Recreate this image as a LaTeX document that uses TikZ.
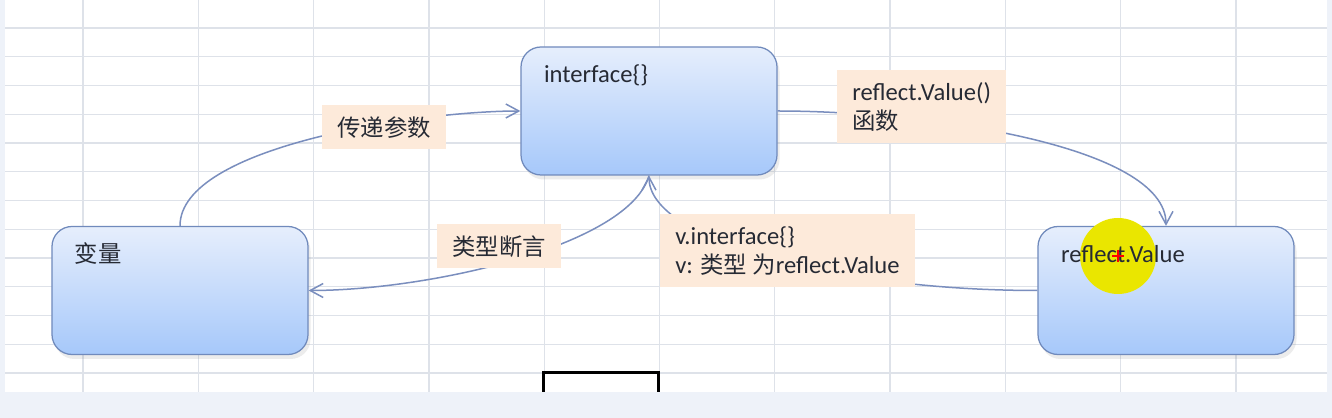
\documentclass[tikz,border=0pt]{standalone}
\usepackage{fontspec}
\setmainfont{Carlito}
\newfontfamily\cjk{Noto Sans CJK SC}[Scale=0.95]
\usetikzlibrary{arrows.meta,shadows}
\definecolor{sheetbg}{RGB}{238,242,249}
\definecolor{gridline}{RGB}{222,226,233}
\definecolor{boxline}{RGB}{112,138,188}
\definecolor{boxtop}{RGB}{230,238,252}
\definecolor{boxbot}{RGB}{166,200,250}
\definecolor{lblfill}{RGB}{253,234,218}
\definecolor{connline}{RGB}{122,142,190}
\definecolor{txt}{RGB}{38,42,52}
\definecolor{hilite}{RGB}{234,230,0}
\tikzset{
  boxtext/.style={text width=42mm, inner xsep=4.6mm, inner ysep=0pt, text height=7.2mm, text depth=18.4mm, align=left},
  box/.style={boxtext, draw=boxline, line width=0.25mm, rounded corners=4mm, top color=boxtop, bottom color=boxbot,
    drop shadow={opacity=0.15, shadow xshift=0.5mm, shadow yshift=-0.9mm}},
  lbl/.style={fill=lblfill, anchor=north west, inner xsep=3mm, inner ysep=0pt, align=left, minimum height=8.8mm},
  conn/.style={draw=connline, line width=0.3mm, -{Straight Barb[length=2.6mm,width=2.8mm]}}
}
\begin{document}
\begin{tikzpicture}[x=0.2mm,y=-0.2mm,font=\fontsize{14}{16.5}\selectfont,text=txt]
\useasboundingbox (0,0) rectangle (1332,418);
\fill[sheetbg] (0,0) rectangle (1332,418);
\fill[white] (5,0) rectangle (1327,392);
\foreach \y in {0,...,12}
  \draw[gridline,line width=0.25mm] (5,{28+28.75*\y}) -- (1327,{28+28.75*\y});
\foreach \x in {0,...,10}
  \draw[gridline,line width=0.25mm] ({83+115.3*\x},0) -- ({83+115.3*\x},392);
\draw[line width=0.6mm] (543,392) -- (543,373) -- (658,373) -- (658,392);

\node[box] (iface) at (649,111) {interface\{\}};
\node[box] (var) at (180,290.5) {\cjk 变量};
\node[box] (rval) at (1166,290.5) {};

\draw[conn] (var.north) .. controls +(0,-80) and +(-100,0) .. (iface.west);
\draw[conn] (iface.east) .. controls +(150,0) and +(0,-80) .. (rval.north);
\draw[conn] (iface.south) .. controls +(-20,70) and +(120,0) .. (var.east);
\draw[conn] (rval.west) .. controls +(-200,0) and +(0,65) .. (iface.south);

\node[lbl] (pass) at (322,105) {\cjk 传递参数};
\node[lbl] (assert) at (437,224) {\cjk 类型断言};
\node[lbl, minimum height=14.6mm] (call) at (837,70) {reflect.Value()\\{\cjk 函数}};
\node[lbl, minimum height=14.6mm] (back) at (660,214) {v.interface\{\}\\v: {\cjk 类型 为}reflect.Value};

\fill[hilite] (1118,256) circle[radius=38];
\node[boxtext] (rvaltext) at (rval) {reflect.Value};
\draw[red, line width=0.5mm] (1112,256) -- (1124,256) (1118,250) -- (1118,262);
\end{tikzpicture}
\end{document}
